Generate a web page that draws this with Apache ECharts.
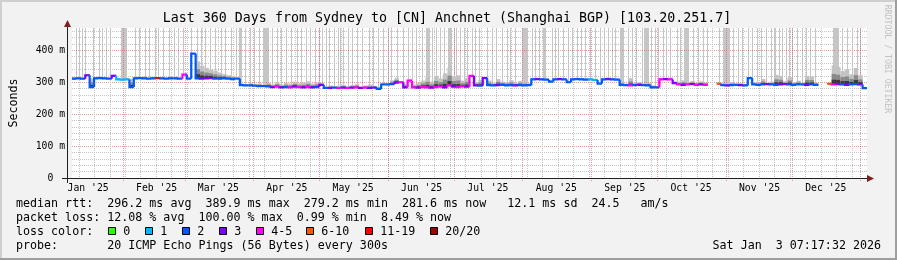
<!DOCTYPE html>
<html><head><meta charset="utf-8">
<script src="https://cdn.jsdelivr.net/npm/echarts@6/dist/echarts.min.js"></script>
<style>html,body{margin:0;padding:0;background:#f2f2f2;}#c{width:897px;height:260px;}</style>
</head><body><div id="c"></div>
<script>
// ---- data (one sample every 2 days, day 0 = left edge of plot, 360 days shown) ----
const median = [
 311,312,311,322,285,312,313,312,311,320,
 309,308,309,285,312,313,312,311,312,313,
 312,311,312,312,311,324,311,389.9,312,311,
 312,313,311,311,312,311,310,311,291,290,
 290,289,288,288,287,285,286,284,285,284,
 286,285,284,285,284,285,292,282,282,283,
 282,283,282,283,284,282,283,282,283,279.2,
 293,293,294,299,300,284,305,284,283,285,
 284,283,285,286,284,290,286,285,287,286,
 320,290,289,313,291,290,291,292,290,291,
 290,291,290,291,309,310,309,308,302,309,
 310,309,300,309,310,309,308,309,307,296,
 309,310,309,308,292,291,290,291,292,291,
 290,284,284,309,310,309,297,293,292,293,
 294,292,293,292,null,null,295,291,290,291,
 292,291,290,313,293,292,293,294,293,292,
 293,294,293,292,293,293,292,293,292,null,
 null,295,293,294,293,292,293,294,293,281.6
];
const loss = [
 2,2,2,3,2,2,2,2,2,3,
 1,1,1,2,2,2,2,2,2,12,
 2,2,2,2,2,4,2,2,2,3,
 3,3,2,2,2,2,2,2,2,2,
 2,2,2,2,2,3,4,3,2,4,
 3,4,3,4,3,2,3,2,3,2,
 4,3,4,3,4,3,4,3,3,2,
 2,2,2,3,4,3,4,4,3,4,
 4,3,4,4,3,4,3,4,4,3,
 4,3,2,3,2,2,3,2,2,2,
 3,2,2,2,2,3,2,2,2,2,
 3,2,2,2,2,2,2,1,1,2,
 2,3,2,2,2,2,4,2,3,2,
 2,2,2,4,3,4,3,4,3,4,
 3,4,3,4,0,0,7,2,3,2,
 2,3,2,2,2,2,2,3,2,2,
 3,3,2,2,2,2,3,2,2,0,
 0,7,4,3,2,3,2,2,3,2
];
const smokeHi = [
 316,317,316,326,312,317,318,317,316,324,
 313,312,313,311,316,317,318,316,317,317,
 316,316,317,318,316,328,316,392,365,352,
 345,340,336,330,326,322,320,317,296,294,
 297,295,296,292,298,294,300,293,298,296,
 302,297,299,303,296,300,298,288,290,287,
 289,292,288,291,294,288,290,293,289,286,
 298,297,306,314,304,295,309,293,298,305,
 315,302,320,312,328,346,318,322,305,314,
 323,300,308,316,305,298,310,302,300,306,
 298,304,300,297,313,314,313,312,306,313,
 314,313,304,313,314,313,312,313,311,300,
 313,315,313,312,300,296,313,298,300,296,
 298,290,288,314,313,315,303,302,306,300,
 304,299,303,300,null,null,299,296,295,300,
 296,297,295,317,300,298,310,299,302,323,
 320,303,316,300,305,299,320,318,298,null,
 null,300,353,348,335,340,325,345,322,285
];
// days with off-scale pings (light grey lines running to the top)
const tallBarDays = [
 1.9,3.2,4.4,5.9,9.5,12.2,13.6,15.4,17.0,22.4,22.8,23.2,23.6,24.0,24.4,28.7,30.5,32.9,35.0,37.4,
 38.8,41.0,43.7,46.4,48.2,50.4,54.1,56.4,58.6,60.2,62.4,64.7,67.4,69.2,72.1,74.4,75.5,75.9,76.3,76.7,
 78.2,80.4,82.4,84.9,86.4,86.8,87.2,87.6,88.0,88.5,88.9,90.5,92.8,94.6,96.9,99.1,101.8,103.6,105.9,107.9,
 109.9,111.9,113.4,114.9,116.4,118.7,120.5,121.4,122.7,125.0,126.9,129.0,131.4,134.7,136.5,138.5,140.7,143.0,144.5,147.0,
 149.7,152.0,153.9,155.7,158.7,160.2,160.6,161.0,161.5,163.2,164.7,166.5,168.4,170.1,170.5,171.0,171.4,172.9,174.0,175.9,
 177.4,179.0,181.2,182.7,184.5,188.0,190.2,192.0,194.7,197.0,198.5,200.4,203.7,204.1,204.5,205.0,205.4,205.9,208.2,209.7,
 211.5,213.4,213.8,214.3,217.2,218.7,220.2,222.4,224.7,226.5,228.5,230.7,232.5,234.5,236.7,239.0,240.9,242.9,244.4,245.8,
 248.1,248.5,249.0,249.6,251.6,253.4,255.6,257.9,258.3,258.8,259.2,259.6,260.1,260.5,260.9,262.0,263.8,265.4,267.6,269.1,
 270.6,274.1,275.1,277.1,277.5,277.9,278.3,278.7,279.1,281.1,283.4,285.6,287.6,293.1,294.6,295.0,295.4,295.8,296.3,296.7,
 297.1,297.6,299.1,301.4,303.6,305.9,308.1,310.1,311.9,314.1,316.4,317.8,318.5,320.1,321.6,323.1,324.6,326.1,328.4,330.6,
 332.6,334.4,336.6,344.8,345.2,345.6,346.1,346.5,346.9,348.6,350.9,353.1,355.4,356.9
];
const monthLineDays = [23.1,51.1,82.1,112.1,143.1,173.1,204.1,235.1,265.1,296.1,326.1,357.1];
const weekLineDays = [3.1,10.1,17.1,24.1,31.1,38.1,45.1,52.1,59.1,66.1,73.1,80.1,87.1,94.1,101.1,108.1,115.1,
 122.1,129.1,136.1,143.1,150.1,157.1,164.1,171.1,178.1,185.1,192.1,199.1,206.1,213.1,220.1,227.1,234.1,241.1,
 248.1,255.1,262.1,269.1,276.1,283.1,290.1,297.1,304.1,311.1,318.1,325.1,332.1,339.1,346.1,353.1];
const monthLabelDays = [7.3,38.3,66.3,97.3,127.3,158.3,188.3,219.3,250.3,280.3,311.3,341.3];
const monthLabels = ["Jan '25","Feb '25","Mar '25","Apr '25","May '25","Jun '25","Jul '25","Aug '25","Sep '25","Oct '25","Nov '25","Dec '25"];
const yMajorTicks = [0,100,200,300,400];
const yMinorTicks = [20,40,60,80,120,140,160,180,220,240,260,280,320,340,360,380,420,440,460];
const lossLabels = ['0','1','2','3','4-5','6-10','11-19','20/20'];
const lossColors = ['#26ff00','#00b8ff','#0059ff','#7e00ff','#ff00ff','#ff5500','#ff0000','#a00000'];
const titleText = 'Last 360 Days from Sydney to [CN] Anchnet (Shanghai BGP) [103.20.251.7]';
const legendLines = [
 'median rtt:  296.2 ms avg  389.9 ms max  279.2 ms min  281.6 ms now   12.1 ms sd  24.5   am/s',
 'packet loss: 12.08 % avg  100.00 % max  0.99 % min  8.49 % now'
];
const probeText = 'probe:       20 ICMP Echo Pings (56 Bytes) every 300s';
const dateText = 'Sat Jan  3 07:17:32 2026';

// ---- rendering ----
const MONO = '"DejaVu Sans Mono", monospace';
const f = s => s + 'px ' + MONO;
const SAMPLE = 2, YMAX = 470;
function lossIdx(n){ if(n<=3) return n; if(n<=5) return 4; if(n<=10) return 5; if(n<=19) return 6; return 7; }

const chart = echarts.init(document.getElementById('c'), null, {renderer:'canvas', width:897, height:260});

const medData = [], smokeData = [];
median.forEach((m,i) => {
  if (m == null) return;
  medData.push([i*SAMPLE, m, loss[i], i]);
  if (smokeHi[i] != null) smokeData.push([i*SAMPLE, m, smokeHi[i]]);
});

const graphic = [];
// frame
graphic.push({type:'rect', shape:{x:0,y:0,width:897,height:2}, style:{fill:'#cfcfcf'}, silent:true});
graphic.push({type:'rect', shape:{x:0,y:0,width:2,height:260}, style:{fill:'#cfcfcf'}, silent:true});
graphic.push({type:'rect', shape:{x:0,y:258,width:897,height:2}, style:{fill:'#9e9e9e'}, silent:true});
graphic.push({type:'rect', shape:{x:895,y:0,width:2,height:260}, style:{fill:'#9e9e9e'}, silent:true});
// axis extensions and arrows
graphic.push({type:'line', shape:{x1:62,y1:178.5,x2:868,y2:178.5}, style:{stroke:'#1f1f1f',lineWidth:1}, z:10});
graphic.push({type:'line', shape:{x1:67.5,y1:183,x2:67.5,y2:26}, style:{stroke:'#1f1f1f',lineWidth:1}, z:10});
graphic.push({type:'polygon', shape:{points:[[867,175],[874,178.5],[867,182]]}, style:{fill:'#801f1f'}, z:10});
graphic.push({type:'polygon', shape:{points:[[64,27],[67.5,20],[71,27]]}, style:{fill:'#801f1f'}, z:10});
// title
graphic.push({type:'text', x:447, y:19, style:{text:titleText, font:f(13.3), fill:'#000', align:'center', verticalAlign:'middle'}});
// watermark
graphic.push({type:'text', x:887, y:59, rotation:-Math.PI/2, style:{text:'RRDTOOL / TOBI OETIKER', font:f(8.2), fill:'#c2c2c2', align:'center', verticalAlign:'middle'}});
// legend lines
const rowY = [204, 218, 232, 246];
legendLines.forEach((t,k) => graphic.push({type:'text', x:16, y:rowY[k], style:{text:t, font:f(11.66), fill:'#000', verticalAlign:'middle'}}));
graphic.push({type:'text', x:16, y:rowY[2], style:{text:'loss color:', font:f(11.66), fill:'#000', verticalAlign:'middle'}});
const boxX = [108.5,145.5,182.5,219.5,256.5,306.5,365.5,430.5];
lossLabels.forEach((lab,k) => {
  graphic.push({type:'rect', shape:{x:boxX[k], y:rowY[2]-4.5, width:7, height:7}, style:{fill:lossColors[k], stroke:'#000', lineWidth:1}});
  graphic.push({type:'text', x:boxX[k]+14.8, y:rowY[2], style:{text:lab, font:f(11.66), fill:'#000', verticalAlign:'middle'}});
});
graphic.push({type:'text', x:16, y:rowY[3], style:{text:probeText, font:f(11.66), fill:'#000', verticalAlign:'middle'}});
graphic.push({type:'text', x:881, y:rowY[3], style:{text:dateText, font:f(11.66), fill:'#000', align:'right', verticalAlign:'middle'}});

const option = {
  backgroundColor:'#f2f2f2',
  animation:false,
  grid:{left:67, right:30, top:28, bottom:82, show:true, backgroundColor:'#ffffff', borderWidth:0},
  xAxis:[
    {type:'value', min:0, max:360, position:'bottom', z:2,
     axisLine:{show:false},
     axisTick:{show:false, customValues:weekLineDays},
     splitLine:{show:true, lineStyle:{color:'#c4c4c4', width:1, type:[1,1]}},
     axisLabel:{show:true, customValues:monthLabelDays, formatter:v => { const k = monthLabelDays.indexOf(v); return k>=0 ? monthLabels[k] : ''; },
                fontFamily:MONO, fontSize:9.75, color:'#000', margin:5}},
    {type:'value', min:0, max:360, position:'bottom', z:2,
     axisLine:{show:false},
     axisTick:{show:true, customValues:monthLineDays, length:4, lineStyle:{color:'rgba(222,79,79,0.6)', type:[1,1]}},
     splitLine:{show:true, lineStyle:{color:'rgba(222,79,79,0.55)', width:1, type:[1,1]}},
     axisLabel:{show:false}}
  ],
  yAxis:[
    {type:'value', min:0, max:YMAX, z:2,
     name:'Seconds', nameLocation:'middle', nameRotate:90, nameGap:52,
     nameTextStyle:{fontFamily:MONO, fontSize:11.66, color:'#000'},
     axisLine:{show:false},
     axisTick:{show:false, customValues:yMajorTicks},
     splitLine:{show:true, lineStyle:{color:'rgba(222,79,79,0.55)', width:1, type:[1,1]}},
     axisLabel:{customValues:yMajorTicks, formatter:v => v === 0 ? '0  ' : v + ' m', fontFamily:MONO, fontSize:9.75, color:'#000', margin:7}},
    {type:'value', min:0, max:YMAX, z:2,
     axisLine:{show:false},
     axisTick:{show:false, customValues:yMinorTicks},
     splitLine:{show:true, lineStyle:{color:'#c4c4c4', width:1, type:[1,1]}},
     axisLabel:{show:false}}
  ],
  graphic: graphic,
  series:[
    {type:'custom', name:'offscale', z:1, xAxisIndex:0, yAxisIndex:0,
     data: tallBarDays.map(d => [d, YMAX]), encode:{x:0, y:1},
     renderItem:(p, api) => {
       const d = api.value(0);
       const bi = Math.min(median.length-1, Math.floor(d / SAMPLE));
       const base = median[bi] != null ? median[bi] : 300;
       const a = api.coord([d, base]), b = api.coord([d, YMAX]);
       const x = Math.round(a[0]) + 0.5;
       return {type:'line', shape:{x1:x, y1:a[1], x2:x, y2:b[1]}, style:{stroke:'#c6c6c6', lineWidth:1}};
     }},
    {type:'custom', name:'smoke', z:3, xAxisIndex:0, yAxisIndex:0,
     data: smokeData, encode:{x:0, y:1},
     renderItem:(p, api) => {
       const x0 = api.value(0), m = api.value(1), h = api.value(2);
       const layers = [[1,'#c2c2c2'],[0.55,'#8a8a8a'],[0.25,'#3a3a3a']];
       return {type:'group', children: layers.map(([fr,c]) => {
         const tl = api.coord([x0, m + (h-m)*fr]), br = api.coord([x0+SAMPLE, m]);
         return {type:'rect', shape:{x:tl[0], y:tl[1], width:br[0]-tl[0], height:Math.max(0,br[1]-tl[1])}, style:{fill:c}};
       })};
     }},
    {type:'custom', name:'median rtt', z:4, xAxisIndex:0, yAxisIndex:0,
     data: medData, encode:{x:0, y:1},
     renderItem:(p, api) => {
       const x0 = api.value(0), m = api.value(1), l = api.value(2), i = api.value(3);
       const pts = [];
       const prev = i > 0 ? median[i-1] : null;
       if (prev != null) pts.push(api.coord([x0, prev]));
       pts.push(api.coord([x0, m]), api.coord([x0+SAMPLE, m]));
       return {type:'polyline', shape:{points:pts}, style:{stroke:lossColors[lossIdx(l)], lineWidth:2.2, fill:null}};
     }}
  ]
};
chart.setOption(option);
</script>
</body></html>
